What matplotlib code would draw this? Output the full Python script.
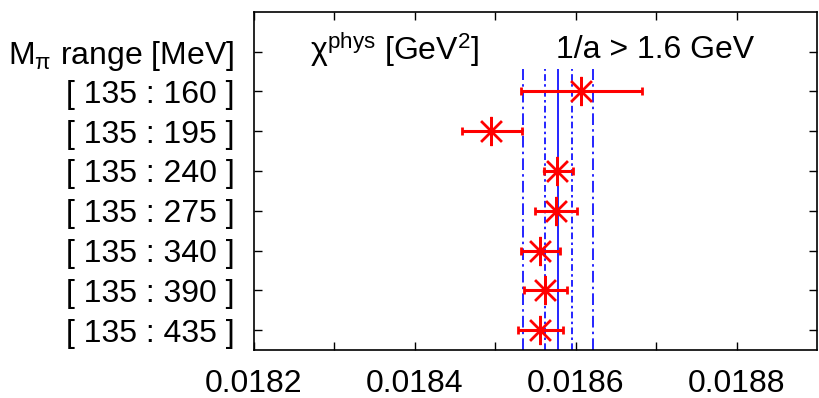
import matplotlib
matplotlib.use("Agg")
import matplotlib.pyplot as plt

plt.rcParams['font.family'] = ['Liberation Sans', 'DejaVu Sans']
plt.rcParams['mathtext.fontset'] = 'custom'
plt.rcParams['mathtext.rm'] = 'Liberation Sans'
plt.rcParams['mathtext.it'] = 'Liberation Sans:italic'

# data
ranges = ["[ 135 : 435 ]", "[ 135 : 390 ]", "[ 135 : 340 ]", "[ 135 : 275 ]",
          "[ 135 : 240 ]", "[ 135 : 195 ]", "[ 135 : 160 ]"]
chi = [0.018556, 0.018562, 0.018556, 0.018575, 0.018577, 0.018495, 0.018607]
chi_lo = [0.018528, 0.018536, 0.018532, 0.018549, 0.018560, 0.018458, 0.018532]
chi_hi = [0.018584, 0.018589, 0.018581, 0.018601, 0.018596, 0.018533, 0.018683]

final = 0.018578
band_inner = [0.018562, 0.018595]
band_outer = [0.018535, 0.018621]

rows = list(range(1, len(ranges) + 1))
err = [[c - lo for c, lo in zip(chi, chi_lo)], [hi - c for c, hi in zip(chi, chi_hi)]]

fig = plt.figure(figsize=(8.19, 3.98), dpi=100)
ax = fig.add_axes([0.3101, 0.1206, 0.6875, 0.85])

ytop_lines = 7.55
ax.vlines(final, 0.5, ytop_lines, color='blue', lw=1.2)
ax.vlines(band_inner, 0.5, ytop_lines, color='blue', lw=1.2, linestyles=[(0, (4, 2, 1.5, 2))])
ax.vlines(band_outer, 0.5, ytop_lines, color='blue', lw=1.2, linestyles=[(0, (7, 2.5, 1.5, 2.5))])

ax.errorbar(chi, rows, xerr=err, fmt='none', ecolor='red', elinewidth=2.2,
            capsize=3, capthick=2)
ax.plot(chi, rows, ls='none', marker=(8, 2, 0), ms=21, mew=1.7, color='red')

ax.set_xlim(0.0182, 0.0189)
ax.set_ylim(0.5, 9)
ax.set_xticks([0.0182, 0.0184, 0.0186, 0.0188])
ax.set_xticklabels(["0.0182", "0.0184", "0.0186", "0.0188"])
ax.set_xticks([0.0183, 0.0185, 0.0187], minor=True)
ax.set_yticks(rows + [8])
ax.set_yticklabels(ranges + [r'M$_{\mathrm{π}}$ range [MeV]'])

ax.tick_params(which='both', direction='in', top=True, right=True,
               length=6, width=1, labelsize=23)
ax.tick_params(axis='x', pad=14)
ax.tick_params(axis='y', pad=14)
for s in ax.spines.values():
    s.set_linewidth(1.2)

ax.text(0.01827, 8.05, r'$\mathrm{χ}^{\mathrm{phys}}$ [GeV$^{2}$]', fontsize=23,
        va='center', ha='left')
ax.text(0.018576, 8.05, '1/a > 1.6 GeV', fontsize=23, va='center', ha='left')

fig.savefig('out.png', dpi=100)
